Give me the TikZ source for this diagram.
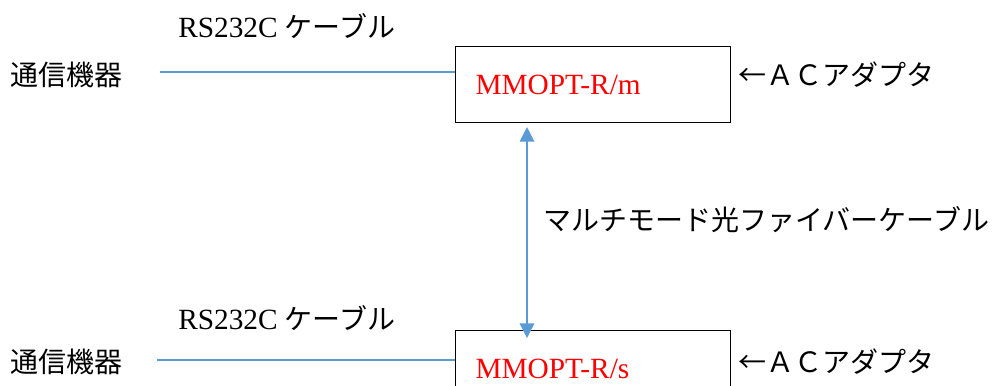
\documentclass[tikz,border=0pt]{standalone}
\usepackage{fontspec}
\setmainfont{Liberation Serif}
\newfontfamily\jp{Noto Sans CJK JP}
\usepackage{xcolor}
\usepackage{tikz}
\usetikzlibrary{arrows.meta,positioning}
\definecolor{cableblue}{RGB}{91,155,213}
\newcommand{\latin}{\fontsize{22}{26}\selectfont}
\tikzstyle{txt} = [inner sep=0pt, anchor=west, font=\fontsize{21}{25}\selectfont]
\tikzstyle{box} = [rectangle, draw, line width=0.8pt, minimum width=206pt,
    minimum height=57pt, inner xsep=15pt, text width=176pt, align=left,
    text=red, font=\latin]
\tikzstyle{line} = [draw, cableblue, line width=1pt]
\tikzstyle{fiber} = [draw, cableblue, line width=1pt,
    {Triangle[width=11pt,length=11pt]}-{Triangle[width=11pt,length=11pt]}]

\begin{document}
\begin{tikzpicture}[x=0.75pt, y=-0.75pt]
    \clip (0,0) rectangle (994,385);
    % Place nodes
    \node [box, anchor=north west] (master) at (455,46) {MMOPT-R/m};
    \node [box, anchor=north west] (slave) at (455,330) {MMOPT-R/s};
    \node [txt] (devA) at (10,75) {\jp 通信機器};
    \node [txt] (devB) at (10,362) {\jp 通信機器};
    \node [txt] (rsA) at (178,26) {{\latin RS232C} {\jp ケーブル}};
    \node [txt] (rsB) at (178,318) {{\latin RS232C} {\jp ケーブル}};
    \node [txt] (acA) at (738,75) {\jp ←ＡＣアダプタ};
    \node [txt] (acB) at (738,362) {\jp ←ＡＣアダプタ};
    \node [txt] (fiberlbl) at (543,220) {\jp マルチモード光ファイバーケーブル};
    \coordinate (endA) at (160,72);
    \coordinate (endB) at (157,360);
    \coordinate (fx) at (527,0);
    % Draw edges
    \path [line] (endA) -- (endA -| master.west);
    \path [line] (endB) -- (endB -| slave.west);
    \path [fiber, shorten <=3pt, shorten >=-6pt] (fx |- master.south) -- (fx |- slave.north);
\end{tikzpicture}
\end{document}
